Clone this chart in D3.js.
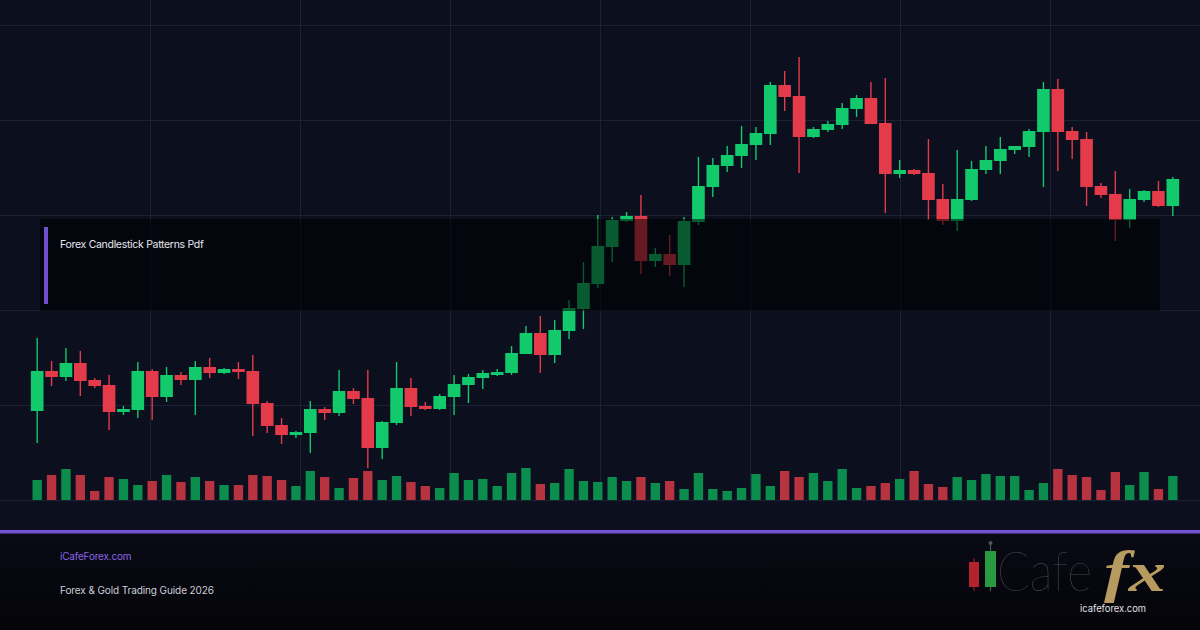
<!DOCTYPE html>
<html>
<head>
<meta charset="utf-8">
<script src="https://cdn.jsdelivr.net/npm/d3@7"></script>
<style>
  html, body { margin: 0; padding: 0; background: #070810; }
  svg { display: block; }
  text { font-family: Inter, Roboto, "Noto Sans", sans-serif; }
</style>
</head>
<body>
<div id="chart"></div>
<script>
// candle data (price units)
var opens  = [2089,2129,2123,2137,2120,2115,2088,2090,2129,2103,2125,2120,2133,2127,2131,2129,2097,2075,2065,2067,
              2091,2087,2109,2102,2052,2077,2112,2094,2091,2103,2115,2122,2125,2127,2146,2167,2145,2169,2191,2216,
              2253,2279,2284,2239,2246,2235,2278,2313,2334,2344,2355,2366,2415,2404,2363,2370,2375,2391,2402,2377,
              2326,2330,2327,2301,2279,2300,2330,2339,2350,2353,2368,2411,2369,2361,2314,2306,2280,2300,2309,2294];
var highs  = [2162,2139,2152,2149,2122,2125,2094,2138,2131,2133,2128,2139,2142,2132,2138,2145,2099,2082,2069,2099,
              2093,2130,2112,2130,2079,2138,2122,2098,2106,2125,2126,2130,2131,2154,2174,2184,2180,2200,2238,2285,
              2283,2288,2305,2252,2265,2283,2343,2342,2354,2374,2373,2418,2429,2443,2373,2379,2397,2405,2418,2422,
              2340,2331,2361,2316,2350,2339,2354,2363,2354,2371,2418,2421,2373,2368,2317,2329,2311,2310,2319,2323];
var lows   = [2057,2114,2119,2104,2112,2070,2085,2082,2080,2098,2115,2085,2122,2126,2121,2064,2067,2056,2062,2047,
              2080,2084,2096,2032,2041,2075,2084,2090,2090,2085,2097,2111,2124,2125,2146,2127,2137,2161,2171,2212,
              2238,2278,2226,2233,2224,2213,2275,2303,2328,2332,2340,2355,2389,2327,2362,2368,2371,2383,2376,2287,
              2322,2325,2280,2275,2269,2299,2326,2326,2346,2343,2313,2329,2341,2294,2302,2259,2272,2298,2293,2284];
var closes = [2129,2123,2137,2119,2114,2088,2091,2129,2103,2125,2120,2133,2127,2131,2128,2096,2074,2065,2068,2091,
              2087,2109,2101,2052,2078,2112,2093,2091,2104,2116,2123,2127,2128,2147,2167,2145,2170,2192,2217,2254,
              2280,2284,2239,2246,2235,2279,2314,2335,2345,2356,2367,2415,2403,2363,2371,2376,2392,2402,2376,2326,
              2330,2326,2300,2279,2301,2331,2340,2351,2354,2369,2411,2368,2360,2313,2305,2280,2301,2309,2294,2321];
var volumes = [20,25,31,25,9,23,21,15,19,25,18,23,19,15,15,25,24,20,14,29,
               23,12,22,29,20,24,18,14,12,27,20,21,14,27,32,16,17,31,19,18,
               23,19,23,17,19,11,27,11,9,12,26,14,29,23,27,19,31,12,14,17,
               21,29,16,13,23,20,26,24,24,10,17,31,25,23,10,28,15,28,11,24];
var gridPrices = [2000, 2095, 2190, 2285, 2380, 2475];
var gridCols = [1, 2, 3, 4, 5, 6, 7];

var titleText = "Forex Candlestick Patterns Pdf";
var siteText = "iCafeForex.com";
var guideText = "Forex & Gold Trading Guide 2026";

var width = 1200, height = 630;
var upColor = "#12c96b", downColor = "#e33b49";
var volUp = "#0b8d4e", volDown = "#b7333f";

var svg = d3.select("#chart").append("svg")
  .attr("width", width)
  .attr("height", height);

var defs = svg.append("defs");
var fg = defs.append("linearGradient").attr("id", "footBg")
  .attr("x1", 0).attr("y1", 0).attr("x2", 0).attr("y2", 1);
fg.append("stop").attr("offset", "0%").attr("stop-color", "#090a14");
fg.append("stop").attr("offset", "100%").attr("stop-color", "#040409");

// backgrounds
svg.append("rect").attr("width", width).attr("height", 532).attr("fill", "#0b0f1e");
svg.append("rect").attr("y", 532).attr("width", width).attr("height", height - 532).attr("fill", "url(#footBg)");

var n = closes.length;
var x = d3.scaleBand()
  .domain(d3.range(n))
  .range([30, 1180])
  .paddingInner(0.12)
  .paddingOuter(0.06);
var y = d3.scaleLinear()
  .domain([2000, 2475])
  .range([500, 25]);
var yVol = d3.scaleLinear()
  .domain([0, 32])
  .range([500, 468]);
var gx = d3.scaleLinear()
  .domain([0, 8])
  .range([0, width]);

// grid
var grid = svg.append("g").attr("class", "grid");
grid.selectAll(".hline")
  .data(gridPrices)
  .enter().append("line")
  .attr("x1", 0).attr("x2", width)
  .attr("y1", function (d) { return y(d) + 0.5; })
  .attr("y2", function (d) { return y(d) + 0.5; })
  .attr("stroke", "#1c2136")
  .attr("stroke-width", 1);
grid.selectAll(".vline")
  .data(gridCols)
  .enter().append("line")
  .attr("x1", function (d) { return gx(d) + 0.5; })
  .attr("x2", function (d) { return gx(d) + 0.5; })
  .attr("y1", 0).attr("y2", 500)
  .attr("stroke", "#1c2136")
  .attr("stroke-width", 1);

var candles = d3.range(n).map(function (i) {
  return { i: i, o: opens[i], h: highs[i], l: lows[i], c: closes[i], v: volumes[i] };
});

// volume
var bw = x.bandwidth();
svg.append("g").selectAll("rect")
  .data(candles)
  .enter().append("rect")
  .attr("x", function (d) { return x(d.i) + bw * 0.13; })
  .attr("width", bw * 0.74)
  .attr("y", function (d) { return yVol(d.v); })
  .attr("height", function (d) { return yVol(0) - yVol(d.v); })
  .attr("fill", function (d) { return d.c >= d.o ? volUp : volDown; });

// candles
var cg = svg.append("g").selectAll("g")
  .data(candles)
  .enter().append("g");
cg.append("line")
  .attr("x1", function (d) { return x(d.i) + bw / 2; })
  .attr("x2", function (d) { return x(d.i) + bw / 2; })
  .attr("y1", function (d) { return y(d.h); })
  .attr("y2", function (d) { return y(d.l); })
  .attr("stroke", function (d) { return d.c >= d.o ? upColor : downColor; })
  .attr("stroke-width", 1.4);
cg.append("rect")
  .attr("x", function (d) { return x(d.i); })
  .attr("width", bw)
  .attr("y", function (d) { return y(Math.max(d.o, d.c)); })
  .attr("height", function (d) { return Math.max(1.5, Math.abs(y(d.o) - y(d.c))); })
  .attr("fill", function (d) { return d.c >= d.o ? upColor : downColor; });

// title box overlay
svg.append("rect")
  .attr("x", 40).attr("y", 219)
  .attr("width", 1120).attr("height", 92)
  .attr("fill", "#000000")
  .attr("fill-opacity", 0.55);
svg.append("rect")
  .attr("x", 44).attr("y", 227)
  .attr("width", 4).attr("height", 77)
  .attr("fill", "#6f4fd2");
svg.append("text")
  .attr("x", 60).attr("y", 248)
  .attr("fill", "#e6e7ee")
  .style("font-size", "10.5px")
  .style("letter-spacing", "-0.3px")
  .text(titleText);

// footer
svg.append("rect")
  .attr("x", 0).attr("y", 530)
  .attr("width", width).attr("height", 3.5)
  .attr("fill", "#7452d4");
svg.append("text")
  .attr("x", 60).attr("y", 560)
  .attr("fill", "#8a66e8")
  .style("font-size", "10px")
  .style("letter-spacing", "-0.2px")
  .text(siteText);
svg.append("text")
  .attr("x", 60).attr("y", 594)
  .attr("fill", "#cdced6")
  .style("font-size", "10px")
  .style("letter-spacing", "-0.1px")
  .text(guideText);

// logo
var logo = svg.append("g").attr("class", "logo");
logo.append("line").attr("x1", 974).attr("x2", 974).attr("y1", 558).attr("y2", 591)
  .attr("stroke", "#8c1c24").attr("stroke-width", 1.2);
logo.append("rect").attr("x", 969).attr("y", 562).attr("width", 10).attr("height", 25)
  .attr("fill", "#b3222d");
logo.append("line").attr("x1", 990.5).attr("x2", 990.5).attr("y1", 544).attr("y2", 591)
  .attr("stroke", "#4a5a4e").attr("stroke-width", 1.2);
logo.append("circle").attr("cx", 990.5).attr("cy", 543).attr("r", 2)
  .attr("fill", "#4a5a4e");
logo.append("rect").attr("x", 985).attr("y", 551).attr("width", 11).attr("height", 36)
  .attr("fill", "#2a9a40");
logo.append("text")
  .attr("x", 997).attr("y", 591)
  .attr("fill", "#4d4d52")
  .attr("textLength", 95)
  .attr("lengthAdjust", "spacingAndGlyphs")
  .style("font-family", "Lato, 'Open Sans', sans-serif")
  .style("font-weight", 200)
  .style("font-size", "56px")
  .text("Cafe");
logo.append("text")
  .attr("x", 1104).attr("y", 591)
  .attr("fill", "#b79a5f")
  .attr("textLength", 62)
  .attr("lengthAdjust", "spacingAndGlyphs")
  .style("font-family", "'Liberation Serif', 'DejaVu Serif', serif")
  .style("font-style", "italic")
  .style("font-weight", "bold")
  .style("font-size", "58px")
  .text("fx");
logo.append("text")
  .attr("x", 1080).attr("y", 612)
  .attr("fill", "#e2e2e6")
  .attr("textLength", 66)
  .attr("lengthAdjust", "spacingAndGlyphs")
  .style("font-size", "10px")
  .text("icafeforex.com");
</script>
</body>
</html>
